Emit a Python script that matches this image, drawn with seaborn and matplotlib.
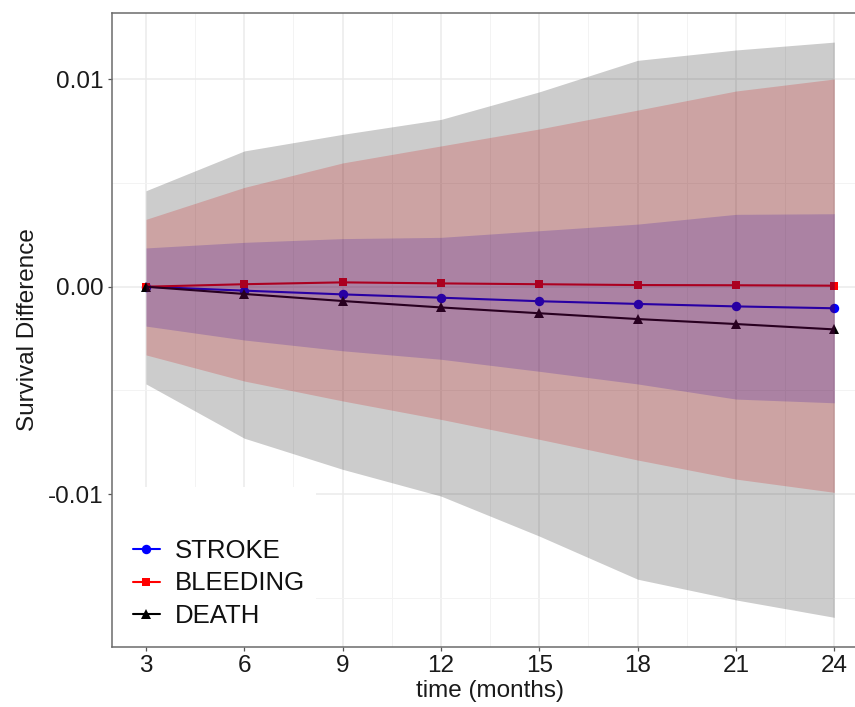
import numpy as np
import pandas as pd
import matplotlib
matplotlib.use("Agg")
import matplotlib.pyplot as plt
import seaborn as sns
from matplotlib.patches import Rectangle
from matplotlib.ticker import MultipleLocator

# ---- data ----
time_months = [3, 6, 9, 12, 15, 18, 21, 24]

stroke = [0.0, -0.00019, -0.00037, -0.00053, -0.00070, -0.00083, -0.00095, -0.00104]
stroke_lo = [-0.00190, -0.00257, -0.00309, -0.00350, -0.00408, -0.00469, -0.00542, -0.00560]
stroke_hi = [0.00187, 0.00214, 0.00232, 0.00238, 0.00270, 0.00302, 0.00349, 0.00352]

bleeding = [0.0, 0.00012, 0.00021, 0.00016, 0.00012, 0.00008, 0.00007, 0.00005]
bleeding_lo = [-0.00329, -0.00455, -0.00551, -0.00640, -0.00736, -0.00836, -0.00928, -0.00992]
bleeding_hi = [0.00325, 0.00479, 0.00597, 0.00679, 0.00761, 0.00852, 0.00944, 0.01002]

death = [0.0, -0.00035, -0.00069, -0.00100, -0.00128, -0.00156, -0.00180, -0.00206]
death_lo = [-0.00469, -0.00731, -0.00881, -0.01010, -0.01203, -0.01411, -0.01511, -0.01595]
death_hi = [0.00463, 0.00655, 0.00735, 0.00807, 0.00940, 0.01092, 0.01142, 0.01180]

series_names = ["STROKE", "BLEEDING", "DEATH"]
x_ticks = [3, 6, 9, 12, 15, 18, 21, 24]
y_ticks = [-0.01, 0.0, 0.01]
y_tick_labels = ["-0.01", "0.00", "0.01"]

# ---- style ----
sns.set_theme(style="white")
plt.rcParams["font.family"] = ["Liberation Sans", "DejaVu Sans"]

fig = plt.figure(figsize=(8.55, 7.07), dpi=100)
ax = fig.add_axes([0.1305, 0.0853, 0.8855, 0.8959])

df = pd.DataFrame({
    "time": time_months * 3,
    "value": stroke + bleeding + death,
    "series": [n for n in series_names for _ in time_months],
})

colors = {"STROKE": "#0000FF", "BLEEDING": "#FF0000", "DEATH": "#000000"}
markers = {"STROKE": "o", "BLEEDING": "s", "DEATH": "^"}
msizes = {"STROKE": 6.8, "BLEEDING": 6.0, "DEATH": 7.0}

for name in series_names:
    sub = df[df["series"] == name]
    sns.lineplot(data=sub, x="time", y="value", ax=ax, color=colors[name],
                 marker=markers[name], markersize=msizes[name], markeredgewidth=0,
                 linewidth=1.5, zorder=2, label=name, legend=False)

# ribbons drawn on top of the lines (as in the reference)
ax.fill_between(time_months, stroke_lo, stroke_hi, color="#0000FF", alpha=0.2, lw=0, zorder=3)
ax.fill_between(time_months, bleeding_lo, bleeding_hi, color="#FF0000", alpha=0.2, lw=0, zorder=3)
ax.fill_between(time_months, death_lo, death_hi, color="#000000", alpha=0.2, lw=0, zorder=3)

ax.set_xlim(1.95, 25.05)
ax.set_ylim(-0.017366, 0.01319)

ax.set_xticks(x_ticks)
ax.set_xticklabels([str(t) for t in x_ticks])
ax.set_yticks(y_ticks)
ax.set_yticklabels(y_tick_labels)
ax.xaxis.set_minor_locator(MultipleLocator(1.5))
ax.yaxis.set_minor_locator(MultipleLocator(0.005))

ax.set_axisbelow(True)
ax.grid(which="major", color="#EBEBEB", linewidth=1.1)
ax.grid(which="minor", color="#F3F3F3", linewidth=0.7)

ax.tick_params(which="major", length=3.0, width=0.9, color="#555555",
               labelsize=17.5, labelcolor="#1a1a1a", pad=3,
               bottom=True, left=True)
ax.tick_params(which="minor", length=0)

for s in ax.spines.values():
    s.set_color("#6b6b6b")
    s.set_linewidth(1.1)
    s.set_visible(True)

ax.set_xlabel("time (months)", fontsize=17.5, color="#1a1a1a", labelpad=2)
ax.set_ylabel("Survival Difference", fontsize=17.5, color="#1a1a1a", labelpad=6)

# white legend background (covers grid)
ax.add_patch(Rectangle((0, 0), 0.27, 0.2526, transform=ax.transAxes,
                       facecolor="white", edgecolor="none", zorder=1))

handles, labels = ax.get_legend_handles_labels()
leg = ax.legend(handles, labels, loc="upper left", bbox_to_anchor=(0.028, 0.170),
                frameon=False, fontsize=18.5, handlelength=1.05, handletextpad=0.6,
                labelspacing=0.33, borderpad=0, borderaxespad=0)
for t in leg.get_texts():
    t.set_color("#111111")

fig.savefig("out.png", dpi=100)
